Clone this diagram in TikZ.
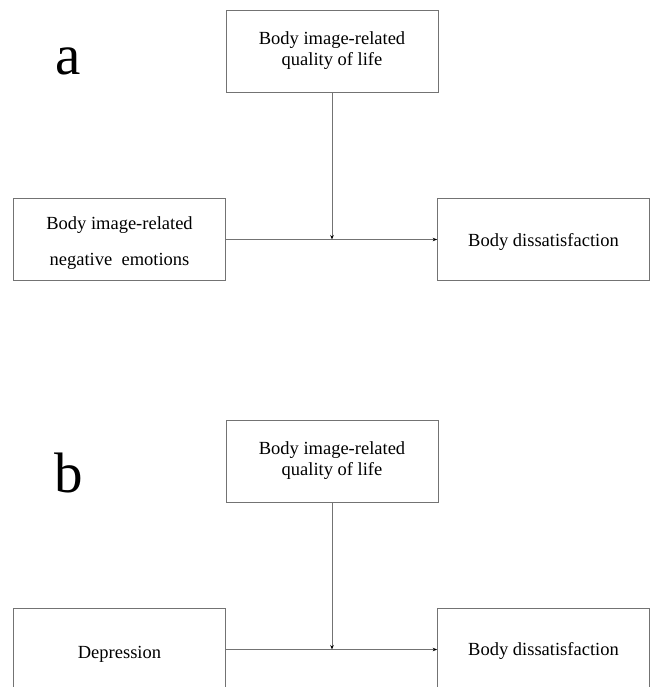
\documentclass[tikz,border=0pt]{standalone}
\usepackage{fontspec}
\setmainfont{Liberation Serif}
\usetikzlibrary{arrows.meta}
\begin{document}
\begin{tikzpicture}[x=1pt,y=-1pt,
  boxnode/.style={draw=black!55,line width=0.7pt,minimum width=212pt,minimum height=82pt,
    inner sep=0pt,align=center,font=\fontsize{18.5}{21}\selectfont},
  boxtext/.style={inner sep=0pt,align=center,font=\fontsize{18.5}{21}\selectfont},
  conn/.style={draw=black!55,line width=0.8pt,-{Stealth[length=4.5pt,width=3.5pt,color=black]}},
  panellabel/.style={font=\fontsize{57}{60}\selectfont,inner sep=0pt}]
\useasboundingbox (0,0) rectangle (650,687);
% panel a
\node[panellabel] (la) at (68,61) {a};
\node[boxnode] (qa) at (332,51) {Body image-related\\quality of life};
\node[boxnode,label={[boxtext,yshift=-4pt]center:Body image-related\\[15pt]negative\ \ emotions}] (ea) at (119.5,239.5) {};
\node[boxnode,label={[boxtext,yshift=-2pt]center:Body dissatisfaction}] (da) at (543.5,239.5) {};
\coordinate (ma) at (332,239.5);
\draw[conn] (ea.east) -- (da.west);
\draw[conn] (qa.south) -- (ma);
% panel b
\node[panellabel] (lb) at (69,473) {b};
\node[boxnode] (qb) at (332,461) {Body image-related\\quality of life};
\node[boxnode,label={[boxtext,yshift=-5pt]center:Depression}] (eb) at (119.5,649.5) {};
\node[boxnode,label={[boxtext,yshift=-1pt]center:Body dissatisfaction}] (db) at (543.5,649.5) {};
\coordinate (mb) at (332,649.5);
\draw[conn] (eb.east) -- (db.west);
\draw[conn] (qb.south) -- (mb);
\end{tikzpicture}
\end{document}
